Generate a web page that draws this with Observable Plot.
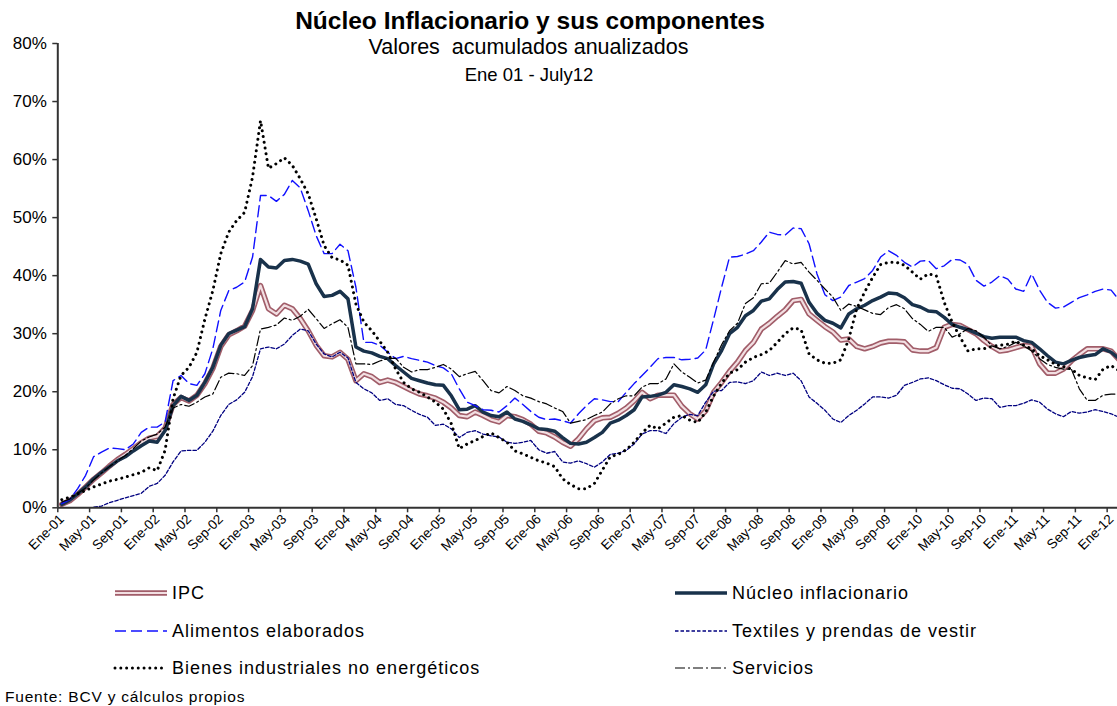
<!DOCTYPE html>
<html><head><meta charset="utf-8">
<script src="https://cdn.jsdelivr.net/npm/d3@7"></script>
<script src="https://cdn.jsdelivr.net/npm/@observablehq/plot@0.6"></script>
<style>
body{margin:0;background:#fff;font-family:"Liberation Sans",Arial,sans-serif;}
#wrap{position:relative;width:1117px;height:706px;overflow:hidden;background:#fff;}
#chart{position:absolute;left:0;top:0;}
.t{position:absolute;white-space:pre;color:#000;line-height:1;}
.lg{position:absolute;display:flex;align-items:center;white-space:pre;font-size:18px;letter-spacing:1px;line-height:1;}
.lg svg{margin-right:3px;}
</style></head><body>
<div id="wrap">
<div id="chart"></div>
<div class="t" style="left:0;width:1060px;text-align:center;top:9px;font-weight:bold;font-size:24.5px">Núcleo Inflacionario y sus componentes</div>
<div class="t" style="left:0;width:1057px;text-align:center;top:37px;font-size:21.5px">Valores  acumulados anualizados</div>
<div class="t" style="left:0;width:1058px;text-align:center;top:66px;font-size:18.5px">Ene 01 - July12</div>
<div class="t" style="left:5px;top:689px;font-size:15.5px;letter-spacing:0.8px">Fuente: BCV y cálculos propios</div>
</div>
<script>
// Monthly series, Jan 2001 (index 0) to Feb 2012 (index 133), in %
const monthNames = ["Ene","Feb","Mar","Abr","May","Jun","Jul","Ago","Sep","Oct","Nov","Dic"];
const startYear = 2001;

const ipc = [
0.6,1.2,2.3,3.6,4.9,6.0,7.2,8.3,9.2,10.2, 11.2,12.0,12.3,13.7,17.8,19.0,18.4,19.4,21.4,24.0, 27.8,29.8,30.5,31.3,34.0,38.3,
34.3,33.4,34.9,34.3,32.6,30.5,28.0,26.2,26.0,26.8, 25.6,21.9,23.1,22.6,21.6,22.0,21.6,20.9,20.2,19.6, 19.3,18.9,18.2,17.2,15.9,15.7,16.5,
15.9,15.2,14.8,15.9,15.7,15.2,14.4,13.2,12.9,12.2, 11.3,10.6,11.9,13.6,15.0,15.5,15.6,16.3,17.2,18.4, 19.9,18.8,19.4,19.4,19.4,17.5,
16.2,15.3,16.7,19.9,21.6,23.5,25.1,27.1,28.5,30.8, 31.8,33.0,34.1,35.7,35.9,33.4,32.3,31.2,30.3,28.9, 29.1,27.8,27.4,27.8,28.4,28.7,28.7,
28.6,27.2,27.0,27.0,27.6,31.1,31.6,31.4,30.7,30.0, 28.8,27.8,27.0,27.2,27.6,28.0,27.8,24.8,23.2,23.2, 23.9,25.3,26.4,27.4,27.4,27.4,27.0,25.5
];
const nucleo = [
0.6,1.3,2.4,3.6,5.0,6.1,7.1,8.1,8.8,9.8, 10.7,11.5,11.3,13.3,17.6,19.2,18.5,19.4,21.6,24.2, 28.0,30.0,30.6,31.2,34.3,42.8,
41.5,41.3,42.6,42.8,42.5,42.0,38.6,36.4,36.6,37.3, 36.0,27.7,27.0,26.7,26.1,25.7,24.5,23.4,22.3,21.9, 21.5,21.2,21.1,19.3,16.9,17.0,17.6,
16.5,15.9,15.7,16.5,15.3,14.9,14.3,13.6,13.5,13.2, 12.1,11.1,11.0,11.3,12.1,13.0,14.6,15.1,15.9,16.9, 19.1,19.2,19.4,19.9,21.2,20.9,
20.5,19.9,21.2,24.8,27.1,30.0,31.1,33.1,34.0,35.6, 36.0,37.6,38.9,39.0,38.7,35.4,33.5,32.3,31.8,31.0, 33.4,34.3,34.9,35.7,36.3,37.0,36.9,
36.2,35.0,34.6,33.9,33.8,32.8,31.6,31.1,30.7,30.1, 29.5,29.2,29.4,29.4,29.4,28.8,28.5,27.4,26.2,25.1, 24.8,25.4,25.9,26.2,26.4,27.4,26.8,25.7
];
const alimentos = [
0.7,1.4,3.3,5.6,8.8,9.6,10.3,10.2,10.0,11.0, 13.0,13.9,13.9,14.8,21.9,22.8,21.4,21.1,23.1,27.4, 34.0,37.4,38.0,38.9,43.2,53.8,
53.8,52.8,54.0,56.4,55.1,51.2,46.9,43.8,43.8,45.4, 44.3,38.0,28.5,28.5,28.0,26.8,25.7,26.1,25.7,25.4, 25.1,24.5,24.1,23.1,20.5,18.2,17.6,
16.9,16.8,16.5,17.6,18.9,17.8,16.6,15.6,15.2,15.3, 15.0,14.6,16.2,17.6,18.8,18.6,18.3,18.3,19.9,21.4, 22.8,24.2,25.7,25.9,25.9,25.5,
25.6,25.8,27.2,32.5,38.0,43.2,43.3,43.7,44.3,45.8, 47.5,47.1,47.0,48.2,48.1,45.5,40.3,36.7,35.7,36.3, 38.3,38.9,39.5,40.9,43.2,44.3,43.5,
42.3,41.5,42.5,42.6,41.2,41.7,42.8,42.7,41.9,39.2, 38.2,38.9,40.0,39.4,37.7,37.3,40.3,37.5,35.4,34.4, 34.6,35.4,36.2,36.7,37.3,37.7,37.5,35.8
];
const textiles = [
-3.5,-2.5,-1.5,-0.5,0.1,0.3,0.9,1.3,1.7,2.1, 2.5,3.7,4.2,5.6,7.9,9.8,9.9,9.9,11.3,13.2, 15.9,17.8,18.6,19.9,22.6,27.4,
27.7,27.4,28.2,29.7,30.8,30.5,28.2,26.5,26.0,26.8, 25.8,21.6,20.5,19.8,18.5,18.8,17.8,17.6,16.8,16.1, 15.6,14.2,14.4,13.6,12.1,13.0,13.3,
12.7,12.4,12.2,11.3,11.1,11.3,11.6,10.0,9.4,9.7, 7.9,7.7,8.1,7.6,7.0,7.9,9.2,9.4,9.9,11.0, 12.7,13.3,13.3,12.8,14.5,15.6,
16.1,15.9,18.2,20.1,20.2,21.6,21.7,21.4,21.9,23.4, 22.8,23.2,22.8,23.2,21.9,19.1,18.0,16.8,15.3,14.7, 15.9,16.8,17.9,19.1,19.1,18.9,19.4,
21.1,21.6,22.2,22.4,21.9,21.2,20.6,20.5,19.6,18.5, 18.9,18.8,17.3,17.6,17.6,18.0,18.6,18.2,17.0,16.2, 15.7,16.6,16.3,16.5,16.9,16.6,16.2,15.6
];
const bienes = [
1.4,1.8,2.4,3.0,3.6,4.1,4.6,4.9,5.3,5.7, 6.1,6.9,6.4,9.9,18.8,22.8,24.2,26.8,32.5,37.4, 43.8,47.5,49.5,50.9,57.0,66.7,
58.5,59.3,60.3,59.0,56.7,54.1,49.8,45.2,43.1,42.7, 41.8,35.1,32.0,30.5,28.7,26.8,23.9,21.6,20.5,19.9, 19.1,18.2,17.0,14.5,10.2,11.0,11.6,
12.3,12.9,12.1,11.3,9.8,9.3,8.7,8.1,7.7,7.1, 5.0,4.0,3.3,3.3,4.2,6.5,8.8,9.2,10.0,11.3, 12.9,14.2,13.6,14.6,15.6,15.9,
15.1,14.7,16.5,19.3,21.5,23.2,23.8,25.1,25.9,26.4, 27.1,28.5,30.0,31.0,30.7,26.5,25.5,24.9,24.9,25.5, 29.1,34.3,37.2,39.7,41.9,42.3,42.3,
41.8,40.6,39.4,40.3,40.0,35.4,32.0,29.4,27.0,27.4, 27.4,27.8,28.0,28.2,28.7,28.0,27.4,26.2,25.5,24.7, 24.3,23.9,22.8,22.4,22.1,23.9,24.5,23.6
];
const servicios = [
1.0,1.5,2.5,3.4,4.8,6.0,7.1,8.1,9.0,10.2, 11.5,12.2,12.7,13.9,17.2,17.8,17.5,18.2,19.1,19.6, 22.5,23.2,23.1,22.8,24.5,30.8,
31.1,31.5,32.7,32.3,33.0,34.2,32.6,30.9,31.7,32.4, 31.1,24.8,24.8,24.7,25.3,25.7,25.8,24.2,23.4,23.8, 23.8,24.2,24.7,23.9,22.6,23.1,23.5,
21.9,20.2,19.8,20.9,20.2,19.3,18.9,18.3,17.9,17.2, 16.6,14.6,14.9,15.2,15.9,16.5,17.9,18.8,19.3,19.3, 20.8,21.4,21.4,22.2,24.8,23.4,
22.5,21.5,22.0,25.1,28.1,30.5,31.8,35.2,36.2,38.6, 38.7,40.6,42.6,42.0,42.3,40.6,39.2,37.7,36.3,34.0, 35.1,34.7,34.1,33.5,33.3,34.5,35.0,
34.3,32.6,31.6,30.4,31.1,31.1,29.4,30.0,30.9,30.5, 29.4,27.9,27.4,27.8,28.5,27.9,27.0,25.7,24.7,24.2, 23.9,23.9,20.5,18.5,18.5,19.4,19.6,19.6
];
const yTicks = [0,10,20,30,40,50,60,70,80];

const seriesDefs = [
  {name:"IPC", values:ipc, col:0, row:0},
  {name:"Núcleo inflacionario", values:nucleo, col:1, row:0},
  {name:"Alimentos elaborados", values:alimentos, col:0, row:1},
  {name:"Textiles y prendas de vestir", values:textiles, col:1, row:1},
  {name:"Bienes industriales no energéticos", values:bienes, col:0, row:2},
  {name:"Servicios", values:servicios, col:1, row:2}
];
const styles = {
  "IPC": [{stroke:"#a15d69", strokeWidth:5.5}, {stroke:"#f2dfe2", strokeWidth:2.2}],
  "Núcleo inflacionario": [{stroke:"#19324b", strokeWidth:3.5}],
  "Alimentos elaborados": [{stroke:"#1010ff", strokeWidth:1.4, strokeDasharray:"11,5"}],
  "Textiles y prendas de vestir": [{stroke:"#000080", strokeWidth:1.3, strokeDasharray:"3.5,2"}],
  "Bienes industriales no energéticos": [{stroke:"#000", strokeWidth:3, strokeDasharray:"0.01,5.8", strokeLinecap:"round"}],
  "Servicios": [{stroke:"#000", strokeWidth:1.2, strokeDasharray:"10,3,2,3"}]
};

const rows = s => s.values.map((v,i)=>({i, v}));
const labelIdx = d3.range(0, 133, 4);
const tickIdx = d3.range(-0.5, 133, 4);
const fmtLabel = i => monthNames[i % 12] + "-" + String((startYear + Math.floor(i/12)) % 100).padStart(2,"0");

const lineMarks = [];
for (const s of seriesDefs) {
  for (const st of styles[s.name]) {
    lineMarks.push(Plot.line(rows(s), {x:"i", y:"v", clip:true, strokeLinejoin:"round", ...st}));
  }
}

const chart = Plot.plot({
  width:1117, height:706,
  marginLeft:57.3, marginRight:0, marginTop:43, marginBottom:198.7,
  x:{domain:[-0.5,132.8], label:null},
  y:{domain:[0,80], label:null},
  style:{fontFamily:"'Liberation Sans', Arial, sans-serif", background:"transparent", color:"#000"},
  marks:[
    Plot.axisY(yTicks, {tickSize:5, tickPadding:6, tickFormat:d=>d+"%", fontSize:17, strokeWidth:1.5, stroke:"#333", label:null}),
    Plot.axisX(labelIdx, {tickSize:0, tickPadding:9, tickRotate:-45, tickFormat:fmtLabel, fontSize:13.5, label:null}),
    Plot.axisX(tickIdx, {tickSize:5, tickFormat:()=>"", strokeWidth:1.5, stroke:"#333", label:null}),
    ...lineMarks,
    Plot.ruleX([-0.5], {stroke:"#333", strokeWidth:2}),
    Plot.ruleY([0], {stroke:"#333", strokeWidth:2})
  ]
});
document.getElementById("chart").appendChild(chart);

// Legend (HTML)
const wrap = document.getElementById("wrap");
const colX = [113, 673];
const rowY = [593, 631, 668];
for (const s of seriesDefs) {
  const div = document.createElement("div");
  div.className = "lg";
  div.style.left = colX[s.col] + "px";
  div.style.top = (rowY[s.row] - 10) + "px";
  const ns = "http://www.w3.org/2000/svg";
  const svg = document.createElementNS(ns, "svg");
  svg.setAttribute("width", 56); svg.setAttribute("height", 20);
  for (const st of styles[s.name]) {
    const ln = document.createElementNS(ns, "line");
    ln.setAttribute("x1", 2); ln.setAttribute("x2", 54);
    ln.setAttribute("y1", 10); ln.setAttribute("y2", 10);
    ln.setAttribute("stroke", st.stroke);
    ln.setAttribute("stroke-width", st.strokeWidth);
    if (st.strokeDasharray) ln.setAttribute("stroke-dasharray", st.strokeDasharray);
    if (st.strokeLinecap) ln.setAttribute("stroke-linecap", st.strokeLinecap);
    svg.appendChild(ln);
  }
  div.appendChild(svg);
  const sp = document.createElement("span");
  sp.textContent = s.name;
  div.appendChild(sp);
  wrap.appendChild(div);
}
</script>
</body></html>
